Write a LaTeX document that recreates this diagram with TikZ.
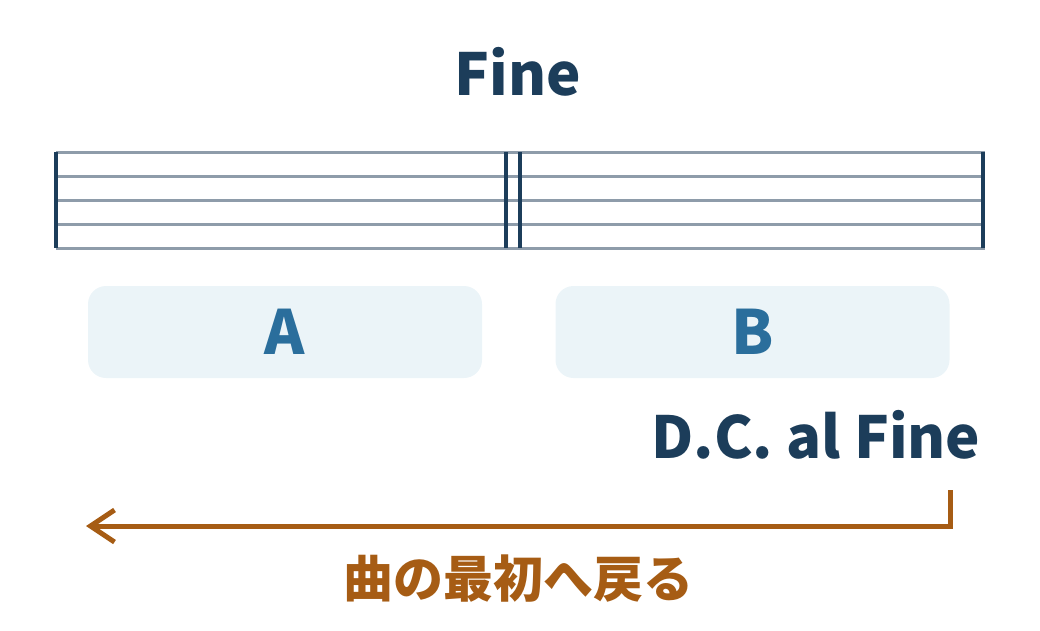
\documentclass[tikz,border=0pt]{standalone}
\usepackage{fontspec}
\setmainfont{Noto Sans CJK JP}
\usetikzlibrary{positioning,arrows.meta}
\definecolor{navy}{HTML}{1C3D5A}
\definecolor{staffgray}{HTML}{8E9CAA}
\definecolor{partfill}{HTML}{EBF4F8}
\definecolor{partblue}{HTML}{2A6E9C}
\definecolor{returnbrown}{HTML}{A65C14}

\begin{document}
\begin{tikzpicture}[x=1pt, y=-1pt, >=stealth,
  staff line/.style={draw=staffgray, line width=3pt},
  bar line/.style={draw=navy, line width=4.5pt},
  every part/.style={fill=partfill, text=partblue, rounded corners=18pt,
    minimum width=394pt, minimum height=92pt, inner sep=0pt,
    font=\fontsize{61}{61}\selectfont\bfseries},
  sign text/.style={text=navy, anchor=base, inner sep=0pt,
    font=\fontsize{58}{58}\selectfont\bfseries},
  return line/.style={draw=returnbrown, line width=5pt},
  return text/.style={text=returnbrown, inner sep=0pt,
    font=\fontsize{50}{50}\selectfont\bfseries}]
\useasboundingbox (0,0) rectangle (1040,630);

% plot staff
\foreach \y in {152, 176, 200, 224, 248}
  \draw [staff line] (56,\y) -- (985,\y);

\foreach \x in {56, 506, 520, 983}
  \draw [bar line] (\x,152) -- (\x,248);

% sections
\foreach \m/\x in {A/285, B/752.5}
  \node [every part/.try] (part-\m) at (\x,332) {\m};

\node [sign text] (fine) at (518,95) {Fine};
\node [sign text] (dc-al-fine) at (816,458) {D.C. al Fine};

% jump back to the start
\coordinate (return-start) at (950,490);
\coordinate (return-end) at (86,526);
\draw [return line, -{Straight Barb[length=24pt, width=32pt]}]
  (return-start) |- (return-end);

\node [return text] (return-label) at (518,579) {曲の最初へ戻る};
\end{tikzpicture}
\end{document}
